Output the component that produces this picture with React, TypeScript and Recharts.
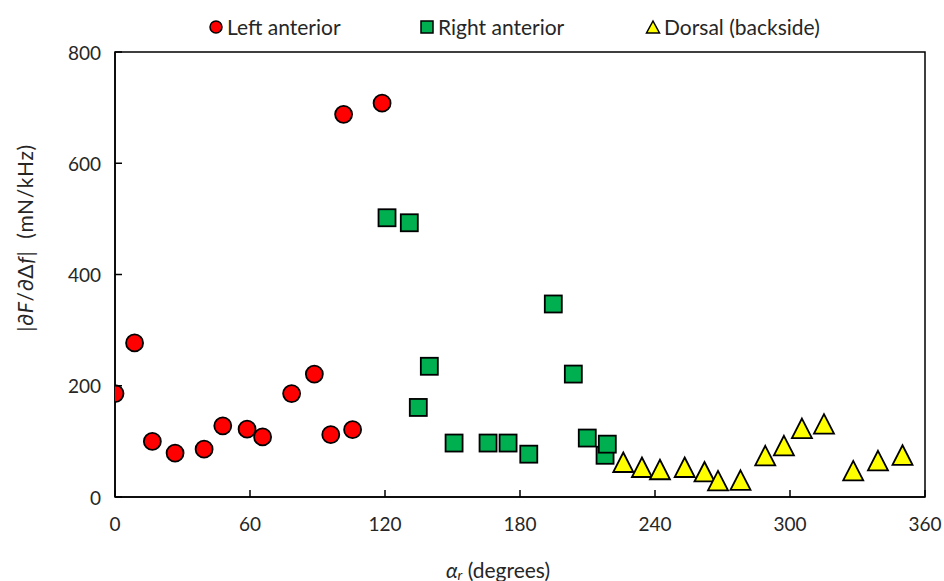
import React from 'react'
import { ScatterChart, Scatter, XAxis, YAxis, ReferenceArea } from 'recharts'

// angle (deg) / |dF/d(delta f)| (mN/kHz)
const leftAngle = [0, 8.7, 16.6, 26.7, 39.6, 47.9, 58.7, 65.6, 78.5, 88.6, 95.9, 101.6, 105.6, 118.7]
const leftValue = [186, 277, 100, 79, 86, 128, 122, 108, 186, 221, 112, 688, 121, 708]

const rightAngle = [120.9, 130.8, 134.8, 139.7, 150.7, 165.8, 174.7, 183.9, 194.8, 203.7, 209.9, 217.8, 218.8]
const rightValue = [502, 493, 161, 235, 97, 97, 97, 77, 347, 221, 106, 75, 95]

const dorsalAngle = [225.9, 234.2, 242.2, 253.2, 262, 268, 278, 289, 297.3, 305.3, 315.1, 328.1, 339.1, 350]
const dorsalValue = [62, 53, 49, 53, 45, 29, 30, 74, 92, 123, 131, 47, 65, 75]

const xTicks = [0, 60, 120, 180, 240, 300, 360]
const yTicks = [0, 200, 400, 600, 800]

const seriesNames = ['Left anterior', 'Right anterior', 'Dorsal (backside)']

const toPoints = (xs: number[], ys: number[]) => xs.map((x, i) => ({ x, y: ys[i] }))

const FONT = 'Lato, "Open Sans", sans-serif'
const TEXT = '#262626'
const TICK_GAP = 10
const TICK_LEN = 7

const CircleMark = (p: any) => (
  <circle cx={p.cx} cy={p.cy} r={8.5} fill="#ff0000" stroke="#000" strokeWidth={1.8} />
)
const SquareMark = (p: any) => (
  <rect x={p.cx - 8.5} y={p.cy - 8.5} width={17} height={17} fill="#00b050" stroke="#000" strokeWidth={1.8} />
)
const TriangleMark = (p: any) => (
  <polygon
    points={`${p.cx},${p.cy - 10} ${p.cx + 10},${p.cy + 9.5} ${p.cx - 10},${p.cy + 9.5}`}
    fill="#ffff00"
    stroke="#000"
    strokeWidth={1.8}
  />
)

// ticks point inward, like the Excel original
const YTick = (p: any) => (
  <g>
    <line x1={p.x + TICK_GAP} x2={p.x + TICK_GAP + TICK_LEN} y1={p.y} y2={p.y} stroke="#000" strokeWidth={1.5} />
    <text x={p.x - 4} y={p.y} textAnchor="end" dominantBaseline="central" fontFamily={FONT} fontSize={19} fill={TEXT}>
      {p.payload.value}
    </text>
  </g>
)
const XTick = (p: any) => (
  <g>
    <line x1={p.x} x2={p.x} y1={p.y - TICK_GAP} y2={p.y - TICK_GAP - TICK_LEN} stroke="#000" strokeWidth={1.5} />
    <text x={p.x} y={p.y + 16} textAnchor="middle" dominantBaseline="central" fontFamily={FONT} fontSize={19} fill={TEXT}>
      {p.payload.value}
    </text>
  </g>
)

const YLabel = () => (
  <text x={0} y={0} transform="translate(24,238) rotate(-90)" textAnchor="middle" dominantBaseline="central"
    fontFamily={FONT} fontSize={21} letterSpacing={0.6} fill={TEXT}>
    <tspan>|∂</tspan><tspan fontStyle="italic">F</tspan><tspan>/∂Δ</tspan><tspan fontStyle="italic">f</tspan>
    <tspan>{'|\u00a0\u00a0(mN/kHz)'}</tspan>
  </text>
)

const XLabel = () => (
  <text x={498} y={569} textAnchor="middle" dominantBaseline="central" fontFamily={FONT} fontSize={21} fill={TEXT}>
    <tspan fontStyle="italic">α</tspan><tspan fontStyle="italic" fontSize={14} dy={5}>r</tspan>
    <tspan dy={-5}>{'\u00a0(degrees)'}</tspan>
  </text>
)

const LegendIcon = ({ kind }: { kind: number }) => (
  <svg width={16} height={16} style={{ marginRight: 3 }}>
    {kind === 0 && <circle cx={8} cy={8} r={6} fill="#ff0000" stroke="#000" strokeWidth={1.5} />}
    {kind === 1 && <rect x={2} y={2} width={12} height={12} fill="#00b050" stroke="#000" strokeWidth={1.5} />}
    {kind === 2 && <polygon points="8,2 14.5,14 1.5,14" fill="#ffff00" stroke="#000" strokeWidth={1.5} />}
  </svg>
)

const legendLeft = [208, 419, 645]

export default function App() {
  return (
    <div style={{ position: 'absolute', left: 0, top: 0, width: 944, height: 581, background: '#fff' }}>
      {seriesNames.map((name, i) => (
        <div key={name} style={{
          position: 'absolute', left: legendLeft[i], top: 15, display: 'flex', alignItems: 'center',
          fontFamily: FONT, fontSize: 21, color: TEXT, whiteSpace: 'nowrap', lineHeight: '24px',
        }}>
          <LegendIcon kind={i} />
          {name}
        </div>
      ))}
      <ScatterChart width={944} height={581} margin={{ top: 52, right: 19, bottom: 0, left: 0 }}>
        <XAxis type="number" dataKey="x" domain={[0, 360]} ticks={xTicks} allowDataOverflow
          height={84} tickSize={0} tickLine={false} tickMargin={TICK_GAP} stroke="#000" strokeWidth={1.5}
          tick={XTick} />
        <YAxis type="number" dataKey="y" domain={[0, 800]} ticks={yTicks} allowDataOverflow
          width={115} tickSize={0} tickLine={false} tickMargin={TICK_GAP} stroke="#000" strokeWidth={1.5}
          tick={YTick} />
        <ReferenceArea x1={0} x2={360} y1={0} y2={800} fill="none" stroke="#000" strokeWidth={1.5} ifOverflow="visible" />
        <Scatter name={seriesNames[0]} data={toPoints(leftAngle, leftValue)} shape={CircleMark} isAnimationActive={false} />
        <Scatter name={seriesNames[1]} data={toPoints(rightAngle, rightValue)} shape={SquareMark} isAnimationActive={false} />
        <Scatter name={seriesNames[2]} data={toPoints(dorsalAngle, dorsalValue)} shape={TriangleMark} isAnimationActive={false} />
        <YLabel />
        <XLabel />
      </ScatterChart>
    </div>
  )
}
